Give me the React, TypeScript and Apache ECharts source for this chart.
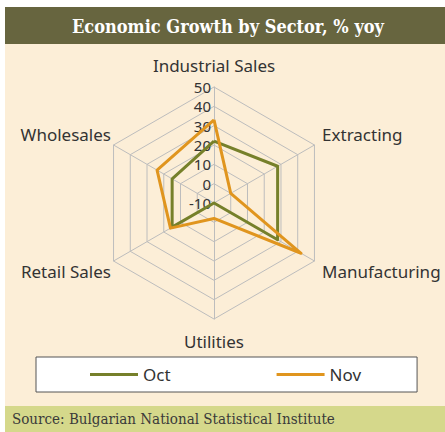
import React, { useEffect, useRef } from "react";
import * as echarts from "echarts";

// Indicators listed counter-clockwise from top (ECharts radar order)
const categories = ["Industrial Sales", "Wholesales", "Retail Sales", "Utilities", "Manufacturing", "Extracting"];
const octValues = [22, 15, 15, -10, 28, 28];
const novValues = [33, 24, 16, -2, 42, 0];
const seriesNames = ["Oct", "Nov"];
const axisMin = -10;
const axisMax = 50;

const OLIVE = "#76802A";
const ORANGE = "#E0951E";
const FONT = "Noto Sans";
const SLAB = "DejaVu Serif Condensed";

// per-indicator label layout (layout only)
const nameLayouts: any[] = [
  { padding: [0, 0, 10, 0] },
  { verticalAlign: "bottom", padding: [0, 0, 1, 0] },
  { verticalAlign: "top", padding: [0, 0, 0, 0] },
  { padding: [11, 0, 0, 0] },
  { verticalAlign: "top", padding: [0, 0, 0, 5] },
  { verticalAlign: "bottom", padding: [0, 0, 1, 5] },
];

export default function App() {
  const ref = useRef<HTMLDivElement>(null);
  useEffect(() => {
    if (!ref.current) return;
    const chart = echarts.init(ref.current, null, { renderer: "svg" });
    chart.setOption({
      animation: false,
      backgroundColor: "#ffffff",
      graphic: [
        { type: "rect", shape: { x: 5, y: 7, width: 440, height: 425 }, style: { fill: "#FCEED7" }, z: -10 },
        { type: "rect", shape: { x: 5, y: 7, width: 440, height: 37 }, style: { fill: "#67653F" }, z: -5 },
        { type: "rect", shape: { x: 5, y: 406, width: 440, height: 26 }, style: { fill: "#D5D88B" }, z: -5 },
        {
          type: "text",
          x: 228,
          y: 26,
          style: {
            text: "Economic Growth by Sector, % yoy",
            fill: "#ffffff",
            font: `bold 18px "${SLAB}"`,
            textAlign: "center",
            textVerticalAlign: "middle",
          },
        },
        {
          type: "text",
          x: 12,
          y: 419,
          style: {
            text: "Source: Bulgarian National Statistical Institute",
            fill: "#3a3a3a",
            font: `15px "${SLAB}"`,
            textAlign: "left",
            textVerticalAlign: "middle",
          },
        },
      ],
      legend: {
        data: seriesNames,
        left: 36,
        top: 357,
        padding: [9, 56, 9, 54],
        backgroundColor: "#ffffff",
        borderColor: "#555555",
        borderWidth: 1,
        itemWidth: 48,
        itemHeight: 3,
        itemGap: 106,
        icon: "rect",
        textStyle: { fontFamily: FONT, fontSize: 17, color: "#333333" },
      },
      radar: {
        center: [214, 203],
        radius: 116,
        startAngle: 90,
        splitNumber: 6,
        shape: "polygon",
        nameGap: 3,
        axisName: { color: "#333333", fontFamily: FONT, fontSize: 17 },
        splitArea: { show: false },
        splitLine: { lineStyle: { color: "#bdbdbd", width: 1 } },
        axisLine: { lineStyle: { color: "#bdbdbd", width: 1 } },
        axisLabel: { show: false },
        indicator: categories.map((name, i) => ({
          name,
          min: axisMin,
          max: axisMax,
          nameTextStyle: nameLayouts[i],
          axisLabel: i === 0
            ? { show: true, color: "#333333", fontFamily: FONT, fontSize: 15, margin: 3 }
            : { show: false },
        })),
      },
      series: [
        {
          type: "radar",
          symbol: "none",
          data: [
            { name: seriesNames[0], value: octValues, lineStyle: { color: OLIVE, width: 3 }, itemStyle: { color: OLIVE } },
            { name: seriesNames[1], value: novValues, lineStyle: { color: ORANGE, width: 3 }, itemStyle: { color: ORANGE } },
          ],
        },
      ],
    });
    return () => chart.dispose();
  }, []);
  return <div ref={ref} style={{ position: "fixed", left: 0, top: 0, width: 445, height: 432 }} />;
}
